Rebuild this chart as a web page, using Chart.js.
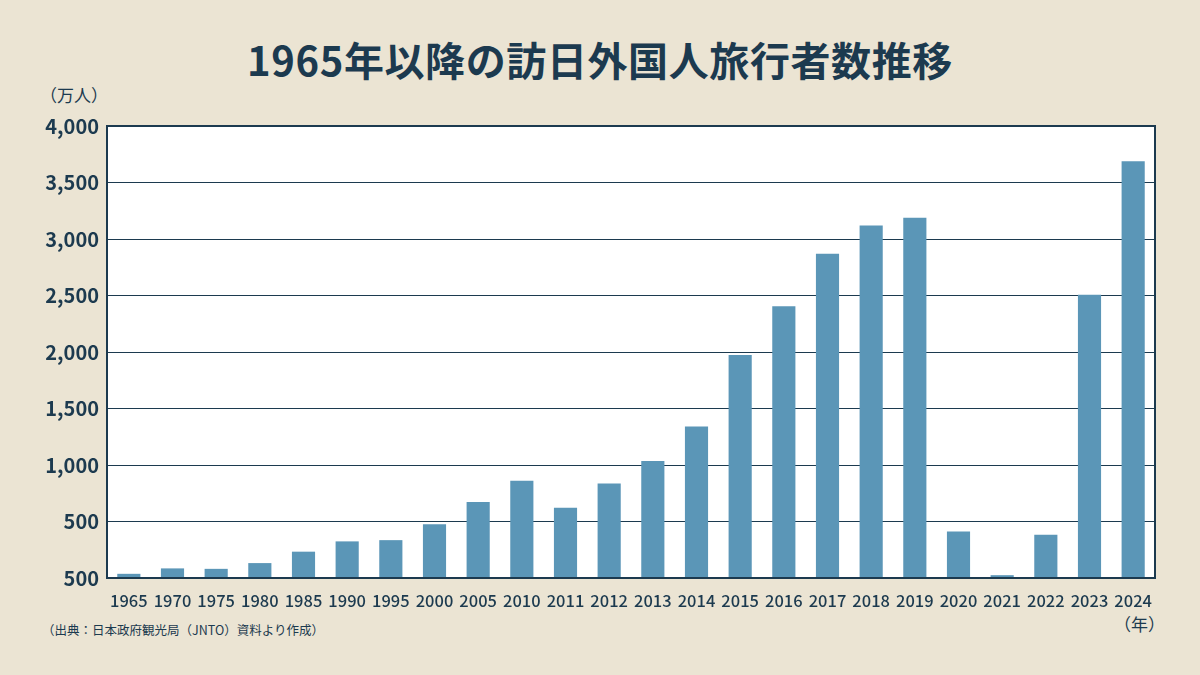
<!DOCTYPE html>
<html lang="ja">
<head>
<meta charset="utf-8">
<script src="https://cdn.jsdelivr.net/npm/chart.js@4"></script>
<style>
  html, body { margin: 0; padding: 0; }
  body {
    width: 1200px; height: 675px; position: relative; overflow: hidden;
    background: #ebe4d3;
    font-family: "Noto Sans CJK JP", "Noto Sans", sans-serif;
    color: #1c3a4f;
  }
  .title {
    position: absolute; top: 30px; left: 0; width: 1200px; text-align: center;
    font-size: 40px; font-weight: 700; letter-spacing: 0.6px;
  }
  .unit { position: absolute; left: 40px; top: 82px; font-size: 17px; }
  .source { position: absolute; left: 42px; top: 620px; font-size: 12.5px; }
  .year { position: absolute; left: 1114px; top: 611px; font-size: 17px; }
  #wrap { position: absolute; left: 0; top: 0; width: 1200px; height: 675px; }
</style>
</head>
<body>
<div class="title">1965年以降の訪日外国人旅行者数推移</div>
<div class="unit">（万人）</div>
<div class="source">（出典：日本政府観光局（JNTO）資料より作成）</div>
<div class="year">（年）</div>
<div id="wrap"><canvas id="chart" width="1200" height="675"></canvas></div>
<script>
const years = ['1965', '1970', '1975', '1980', '1985', '1990', '1995', '2000', '2005', '2010', '2011', '2012',
    '2013', '2014', '2015', '2016', '2017', '2018', '2019', '2020', '2021', '2022', '2023', '2024'];
const visitors = [37, 85, 81, 132, 233, 324, 335, 476, 673, 861, 622, 836,
    1036, 1341, 1974, 2404, 2869, 3119, 3188, 412, 25, 383, 2507, 3687];
const yTickValues = [0, 500, 1000, 1500, 2000, 2500, 3000, 3500, 4000];
const yTickLabels = ['500', '500', '1,000', '1,500', '2,000', '2,500', '3,000', '3,500', '4,000'];

const navy = '#1c3a4f';

// white plot background + frame round the chart area
const plotFrame = {
    id: 'plotFrame',
    beforeDraw(chart) {
        const { ctx, chartArea: a } = chart;
        ctx.save();
        ctx.fillStyle = '#ffffff';
        ctx.fillRect(a.left, a.top, a.right - a.left, a.bottom - a.top);
        ctx.restore();
    },
    afterDraw(chart) {
        const { ctx, chartArea: a } = chart;
        ctx.save();
        ctx.strokeStyle = navy;
        ctx.lineWidth = 2;
        ctx.strokeRect(a.left, a.top, a.right - a.left, a.bottom - a.top);
        ctx.restore();
    }
};

new Chart(document.getElementById('chart'), {
    type: 'bar',
    data: {
        labels: years,
        datasets: [{
            data: visitors,
            backgroundColor: '#5b96b7',
            barPercentage: 0.53,
            categoryPercentage: 1.0,
        }]
    },
    options: {
        responsive: false,
        animation: false,
        layout: { padding: { top: 126, right: 45, left: 0, bottom: 0 } },
        plugins: {
            legend: { display: false },
            tooltip: { enabled: false },
        },
        scales: {
            x: {
                grid: { display: false },
                border: { display: false },
                ticks: {
                    color: navy,
                    padding: 5,
                    maxRotation: 0,
                    autoSkip: false,
                    font: { family: '"Noto Sans CJK JP"', size: 16.5, weight: '500' },
                },
                afterFit(scale) { scale.height = 97; }
            },
            y: {
                min: 0,
                max: 4000,
                afterBuildTicks(scale) {
                    scale.ticks = yTickValues.map(v => ({ value: v }));
                },
                grid: { color: navy, lineWidth: 1, drawTicks: false },
                border: { display: false },
                ticks: {
                    color: navy,
                    padding: 8,
                    font: { family: '"Noto Sans CJK JP"', size: 20, weight: '700' },
                    callback: function (value, index) {
                        return yTickLabels[index];
                    }
                },
                afterFit(scale) { scale.width = 107; }
            }
        }
    },
    plugins: [plotFrame]
});
</script>
</body>
</html>
